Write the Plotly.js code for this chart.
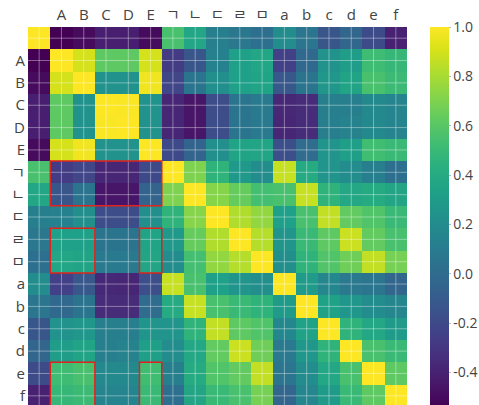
<!DOCTYPE html>
<html>
<head>
<meta charset="utf-8">
<script src="https://cdn.plot.ly/plotly-3.0.1.min.js"></script>
<style>
  html, body { margin: 0; padding: 0; overflow: hidden; background: #fff; }
  #chart { width: 479px; height: 407px; }
</style>
</head>
<body>
<div id="chart"></div>
<script>
// Axis labels (first row/column is unlabeled)
const labels = ['', 'A', 'B', 'C', 'D', 'E', 'ㄱ', 'ㄴ', 'ㄷ', 'ㄹ', 'ㅁ', 'a', 'b', 'c', 'd', 'e', 'f'];

// Correlation matrix rows (row order = labels order)
const row0 = [1.00, -0.54, -0.50, -0.41, -0.41, -0.50, 0.55, 0.37, 0.12, 0.07, 0.02, 0.21, 0.06, -0.13, -0.04, -0.19, -0.40];
const rowA = [-0.54, 1.00, 0.90, 0.62, 0.62, 0.90, -0.27, -0.13, 0.13, 0.33, 0.37, -0.25, -0.02, 0.24, 0.31, 0.52, 0.49];
const rowB = [-0.50, 0.90, 1.00, 0.24, 0.24, 0.97, -0.22, 0.05, 0.22, 0.33, 0.35, -0.12, 0.05, 0.27, 0.35, 0.55, 0.51];
const rowC = [-0.41, 0.62, 0.24, 1.00, 0.99, 0.24, -0.38, -0.45, -0.18, 0.05, 0.09, -0.37, -0.35, 0.12, 0.12, 0.18, 0.15];
const rowD = [-0.41, 0.62, 0.24, 0.99, 1.00, 0.24, -0.38, -0.45, -0.18, 0.05, 0.09, -0.38, -0.35, 0.12, 0.14, 0.18, 0.15];
const rowE = [-0.50, 0.90, 0.97, 0.24, 0.24, 1.00, -0.20, -0.05, 0.22, 0.35, 0.36, -0.17, 0.00, 0.25, 0.32, 0.53, 0.50];
const rowG = [0.55, -0.27, -0.22, -0.38, -0.38, -0.20, 1.00, 0.70, 0.46, 0.28, 0.20, 0.87, 0.40, 0.25, 0.20, 0.12, 0.02];
const rowN = [0.37, -0.13, 0.05, -0.45, -0.45, -0.05, 0.70, 1.00, 0.72, 0.64, 0.54, 0.55, 0.87, 0.46, 0.38, 0.40, 0.36];
const rowDg = [0.12, 0.13, 0.22, -0.18, -0.18, 0.22, 0.46, 0.72, 1.00, 0.82, 0.75, 0.33, 0.55, 0.86, 0.63, 0.58, 0.50];
const rowR = [0.07, 0.33, 0.33, 0.05, 0.05, 0.35, 0.28, 0.64, 0.82, 1.00, 0.83, 0.25, 0.50, 0.62, 0.88, 0.63, 0.55];
const rowM = [0.02, 0.37, 0.35, 0.09, 0.09, 0.36, 0.20, 0.54, 0.75, 0.83, 1.00, 0.22, 0.46, 0.58, 0.66, 0.86, 0.68];
const rowa = [0.21, -0.25, -0.12, -0.37, -0.38, -0.17, 0.87, 0.55, 0.33, 0.25, 0.22, 1.00, 0.30, 0.17, 0.08, 0.06, -0.04];
const rowb = [0.06, -0.02, 0.05, -0.35, -0.35, 0.00, 0.40, 0.87, 0.55, 0.50, 0.46, 0.30, 1.00, 0.34, 0.27, 0.20, 0.16];
const rowc = [-0.13, 0.24, 0.27, 0.12, 0.12, 0.25, 0.25, 0.46, 0.86, 0.62, 0.58, 0.17, 0.34, 1.00, 0.46, 0.38, 0.30];
const rowd = [-0.04, 0.31, 0.35, 0.12, 0.14, 0.32, 0.20, 0.38, 0.63, 0.88, 0.66, 0.08, 0.27, 0.46, 1.00, 0.55, 0.50];
const rowe = [-0.19, 0.52, 0.55, 0.18, 0.18, 0.53, 0.12, 0.40, 0.58, 0.63, 0.86, 0.06, 0.20, 0.38, 0.55, 1.00, 0.62];
const rowf = [-0.40, 0.49, 0.51, 0.15, 0.15, 0.50, 0.02, 0.36, 0.50, 0.55, 0.68, -0.04, 0.16, 0.30, 0.50, 0.62, 1.00];

const z = [row0, rowA, rowB, rowC, rowD, rowE, rowG, rowN, rowDg, rowR, rowM, rowa, rowb, rowc, rowd, rowe, rowf];

// Highlighted blocks (by label names)
const highlightCols = [['A', 'E'], ['A', 'B'], ['E', 'E'], ['A', 'B'], ['E', 'E']];
const highlightRows = [['ㄱ', 'ㄴ'], ['ㄹ', 'ㅁ'], ['ㄹ', 'ㅁ'], ['e', 'f'], ['e', 'f']];

const colorbarTicks = [-0.4, -0.2, 0.0, 0.2, 0.4, 0.6, 0.8, 1.0];

const idx = labels.map((_, i) => i);
const FONT = '"Open Sans", "Noto Sans CJK KR", sans-serif';

const shapes = [];
// grid lines over the heatmap at each cell centre
idx.forEach(i => {
  shapes.push({type: 'line', layer: 'above', xref: 'x', yref: 'paper', x0: i, x1: i, y0: 0, y1: 1,
               line: {color: 'rgba(255,255,255,0.38)', width: 1}});
  shapes.push({type: 'line', layer: 'above', xref: 'paper', yref: 'y', x0: 0, x1: 1, y0: i, y1: i,
               line: {color: 'rgba(255,255,255,0.38)', width: 1}});
});
highlightCols.forEach((c, k) => {
  const r = highlightRows[k];
  shapes.push({type: 'rect', layer: 'above', xref: 'x', yref: 'y',
               x0: labels.indexOf(c[0]) - 0.5, x1: labels.indexOf(c[1]) + 0.5,
               y0: labels.indexOf(r[0]) - 0.5, y1: labels.indexOf(r[1]) + 0.5,
               line: {color: '#e0231c', width: 1.5}});
});

const trace = {
  type: 'heatmap',
  z: z,
  x: idx,
  y: idx,
  colorscale: 'Viridis',
  zmin: -0.54,
  zmax: 1.0,
  colorbar: {
    x: 1.035, xanchor: 'left', xpad: 10,
    y: 0.5, yanchor: 'middle', len: 1, ypad: 0,
    thickness: 19, outlinewidth: 0,
    tickvals: colorbarTicks, ticktext: colorbarTicks.map(v => v.toFixed(1)),
    ticks: 'outside', ticklen: 2, tickcolor: '#bbb',
    tickfont: {family: FONT, size: 14, color: '#444'}
  },
  hoverongaps: false
};

const layout = {
  width: 479, height: 407,
  margin: {l: 28, r: 72, t: 27, b: 0, autoexpand: false},
  paper_bgcolor: '#fff', plot_bgcolor: '#fff',
  font: {family: FONT, size: 15, color: '#444'},
  xaxis: {
    side: 'top', tickvals: idx, ticktext: labels, showgrid: false, zeroline: false,
    ticks: '', ticklabelstandoff: 3, range: [-0.5, labels.length - 0.5],
    tickfont: {family: FONT, size: 15, color: '#444'}
  },
  yaxis: {
    tickvals: idx, ticktext: labels, showgrid: false, zeroline: false,
    ticks: '', ticklabelstandoff: 2, range: [labels.length - 0.5, -0.5],
    tickfont: {family: FONT, size: 15, color: '#444'}
  },
  shapes: shapes,
  showlegend: false
};

Plotly.newPlot('chart', [trace], layout, {displayModeBar: false, staticPlot: true});
</script>
</body>
</html>
